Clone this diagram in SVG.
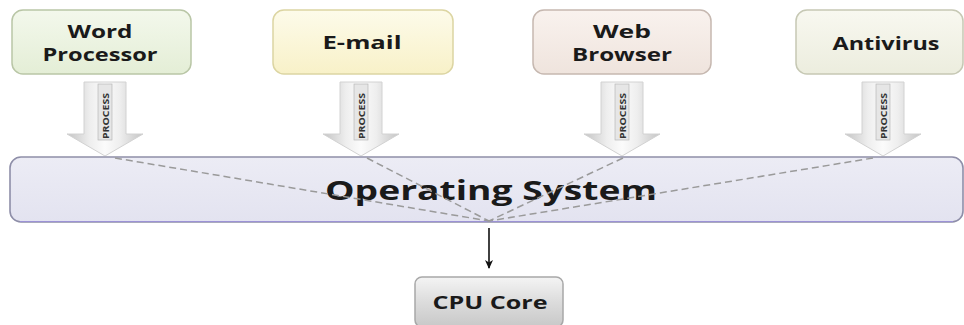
<svg xmlns="http://www.w3.org/2000/svg" width="964" height="325" viewBox="0 0 964 325">
  <defs>
    <linearGradient id="gWord" x1="0" y1="0" x2="0" y2="1">
      <stop offset="0" stop-color="#f3f8ec"/><stop offset="1" stop-color="#e4eed6"/>
    </linearGradient>
    <linearGradient id="gMail" x1="0" y1="0" x2="0" y2="1">
      <stop offset="0" stop-color="#fdfbea"/><stop offset="1" stop-color="#f8f1c8"/>
    </linearGradient>
    <linearGradient id="gWeb" x1="0" y1="0" x2="0" y2="1">
      <stop offset="0" stop-color="#f9f2ee"/><stop offset="1" stop-color="#efe4dd"/>
    </linearGradient>
    <linearGradient id="gAnti" x1="0" y1="0" x2="0" y2="1">
      <stop offset="0" stop-color="#f8f8f0"/><stop offset="1" stop-color="#ecedde"/>
    </linearGradient>
    <linearGradient id="gOS" x1="0" y1="0" x2="0" y2="1">
      <stop offset="0" stop-color="#ececf5"/><stop offset="1" stop-color="#e3e3f0"/>
    </linearGradient>
    <linearGradient id="gCPU" x1="0" y1="0" x2="0" y2="1">
      <stop offset="0" stop-color="#f4f4f4"/><stop offset="0.5" stop-color="#dcdcdc"/><stop offset="1" stop-color="#c8c8c8"/>
    </linearGradient>
    <linearGradient id="gArrow" x1="0" y1="0" x2="1" y2="0">
      <stop offset="0" stop-color="#c4c4c4"/><stop offset="0.3" stop-color="#eeeeee"/>
      <stop offset="0.5" stop-color="#fbfbfb"/><stop offset="0.7" stop-color="#eeeeee"/>
      <stop offset="1" stop-color="#c4c4c4"/>
    </linearGradient>
    <marker id="ah" markerWidth="9" markerHeight="8" refX="8" refY="4" orient="auto" markerUnits="userSpaceOnUse">
      <path d="M0,0 L9,4 L0,8 L2.5,4 Z" fill="#111"/>
    </marker>
    <path id="parrow" d="M-21,0 H21 V52 H38 L0,74 L-38,52 H-21 Z"/>
  </defs>
  <style>
    .lbl { font-family: "Open Sans", "Liberation Sans", sans-serif; font-weight: bold; fill: #1a1a1a; text-anchor: middle; }
    .app { font-size: 18px; }
    .proc { font-family: "Open Sans", "Liberation Sans", sans-serif; font-weight: bold; font-size: 9px; fill: #333; text-anchor: middle; }
    .arrow { fill: url(#gArrow); stroke: #d2d2d2; stroke-width: 1; }
    .strip { fill: #e6e6e6; stroke: #b0b0b0; stroke-width: 0.6; }
    .dash { stroke: #9a9a9a; stroke-width: 1.5; stroke-dasharray: 7 4; fill: none; }
  </style>

  <rect width="964" height="325" fill="#ffffff"/>

  <g id="node-word">
    <rect x="12" y="10" width="179" height="64" rx="11" fill="url(#gWord)" stroke="#b9c6a6" stroke-width="1.5"/>
    <text class="lbl app" x="100" y="38" textLength="65" lengthAdjust="spacingAndGlyphs">Word</text>
    <text class="lbl app" x="100" y="61" textLength="115" lengthAdjust="spacingAndGlyphs">Processor</text>
  </g>
  <g id="node-email">
    <rect x="273" y="10" width="180" height="64" rx="11" fill="url(#gMail)" stroke="#dcd5a2" stroke-width="1.5"/>
    <text class="lbl app" x="362" y="49" textLength="79" lengthAdjust="spacingAndGlyphs">E-mail</text>
  </g>
  <g id="node-web">
    <rect x="533" y="10" width="178" height="64" rx="11" fill="url(#gWeb)" stroke="#c6b8b0" stroke-width="1.5"/>
    <text class="lbl app" x="622" y="38" textLength="58" lengthAdjust="spacingAndGlyphs">Web</text>
    <text class="lbl app" x="622" y="61" textLength="100" lengthAdjust="spacingAndGlyphs">Browser</text>
  </g>
  <g id="node-antivirus">
    <rect x="796" y="10" width="167" height="64" rx="11" fill="url(#gAnti)" stroke="#c6c8b4" stroke-width="1.5"/>
    <text class="lbl app" x="886" y="50" textLength="107" lengthAdjust="spacingAndGlyphs">Antivirus</text>
  </g>

  <g id="process-arrows">
    <g transform="translate(105,82)">
      <use href="#parrow" class="arrow"/>
      <rect class="strip" x="-7" y="2" width="14" height="56"/>
      <text class="proc" transform="translate(3.5,34) rotate(-90)" textLength="46" lengthAdjust="spacingAndGlyphs">PROCESS</text>
    </g>
    <g transform="translate(361,82)">
      <use href="#parrow" class="arrow"/>
      <rect class="strip" x="-7" y="2" width="14" height="56"/>
      <text class="proc" transform="translate(3.5,34) rotate(-90)" textLength="46" lengthAdjust="spacingAndGlyphs">PROCESS</text>
    </g>
    <g transform="translate(622,82)">
      <use href="#parrow" class="arrow"/>
      <rect class="strip" x="-7" y="2" width="14" height="56"/>
      <text class="proc" transform="translate(3.5,34) rotate(-90)" textLength="46" lengthAdjust="spacingAndGlyphs">PROCESS</text>
    </g>
    <g transform="translate(883,82)">
      <use href="#parrow" class="arrow"/>
      <rect class="strip" x="-7" y="2" width="14" height="56"/>
      <text class="proc" transform="translate(3.5,34) rotate(-90)" textLength="46" lengthAdjust="spacingAndGlyphs">PROCESS</text>
    </g>
  </g>

  <g id="node-os">
    <rect x="10" y="157" width="953" height="65" rx="11" fill="url(#gOS)" stroke="#8e8ea8" stroke-width="1.6"/>
    <line x1="20" y1="221.5" x2="953" y2="221.5" stroke="#9c92d6" stroke-width="1"/>
    <text class="lbl" x="491" y="200" font-size="26" textLength="332" lengthAdjust="spacingAndGlyphs">Operating System</text>
  </g>

  <g id="node-cpu">
    <rect x="415" y="277" width="148" height="50" rx="7" fill="url(#gCPU)" stroke="#a8a8a8" stroke-width="1.5"/>
    <text class="lbl" x="490" y="309" font-size="17" textLength="115" lengthAdjust="spacingAndGlyphs">CPU Core</text>
  </g>

  <g id="connectors">
    <line class="dash" x1="115" y1="158" x2="489" y2="221"/>
    <line class="dash" x1="367" y1="158" x2="489" y2="221"/>
    <line class="dash" x1="623" y1="158" x2="489" y2="221"/>
    <line class="dash" x1="873" y1="158" x2="489" y2="221"/>
    <line x1="489" y1="228" x2="489" y2="268" stroke="#111" stroke-width="1.6" marker-end="url(#ah)"/>
  </g>
</svg>
